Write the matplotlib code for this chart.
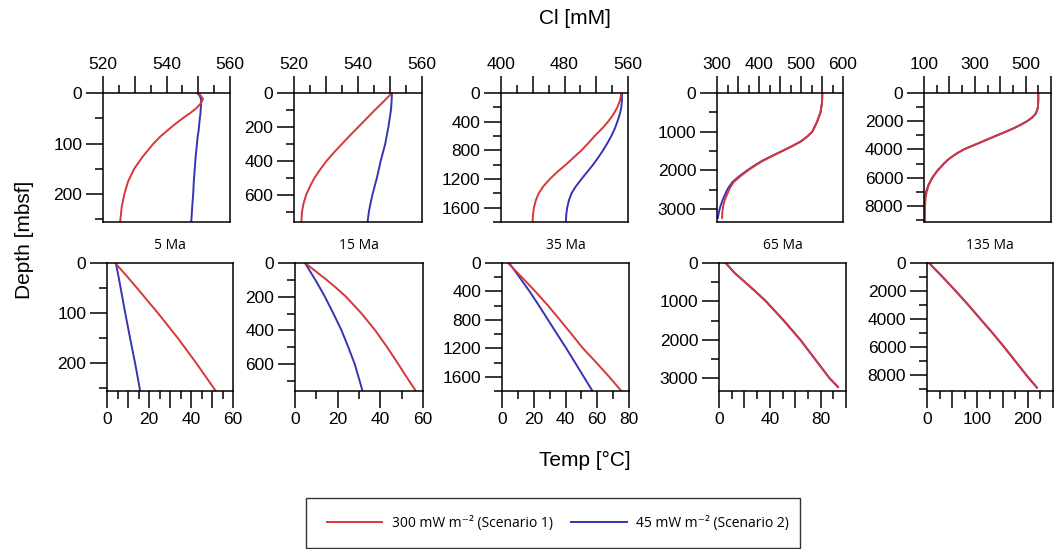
import matplotlib
matplotlib.use("Agg")
import matplotlib.pyplot as plt
from matplotlib.lines import Line2D
from matplotlib.patches import Rectangle

plt.rcParams['font.family'] = ['Liberation Sans', 'DejaVu Sans']

RED = '#d6373b'
BLUE = '#3434b4'

ages = ['5 Ma', '15 Ma', '35 Ma', '65 Ma', '135 Ma']
legend_labels = ['300 mW m\u207b\u00b2 (Scenario 1)', '45 mW m\u207b\u00b2 (Scenario 2)']

# ---- Cl profiles (depth in mbsf, Cl in mM) ----
cl_depth_5 = [0, 5, 12, 20, 30, 40, 50, 62, 75, 87, 100, 125, 150, 175, 200, 225, 255]
cl_red_5 = [549.7, 550.8, 551.5, 550.9, 549.4, 547.4, 545.1, 542.6, 540.1, 537.9, 535.9,
            532.6, 529.8, 527.9, 526.7, 525.9, 525.4]
cl_blue_5 = [549.7, 550.4, 550.9, 550.9, 550.8, 550.7, 550.5, 550.3, 550.1, 549.8, 549.6,
             549.2, 548.9, 548.6, 548.4, 548.1, 547.8]

cl_depth_15 = [0, 50, 100, 150, 200, 250, 300, 350, 400, 450, 500, 550, 600, 650, 700, 757]
cl_red_15 = [550.6, 548.0, 545.3, 542.7, 540.1, 537.5, 535.0, 532.5, 530.2, 528.2, 526.4,
             525.0, 523.8, 523.0, 522.5, 522.3]
cl_blue_15 = [550.6, 550.5, 550.3, 549.9, 549.5, 549.0, 548.5, 547.8, 547.1, 546.5, 545.9,
              545.2, 544.5, 543.9, 543.4, 543.0]

cl_depth_35 = [0, 100, 200, 300, 400, 500, 600, 700, 800, 900, 1000, 1100, 1200, 1300,
               1400, 1500, 1600, 1700, 1800]
cl_red_35 = [551.6, 550.0, 546.6, 541.5, 534.9, 527.0, 518.0, 510.0, 501.4, 491.5, 481.7,
             471.0, 461.6, 453.5, 447.5, 443.8, 441.5, 440.3, 439.8]
cl_blue_35 = [552.5, 552.3, 551.6, 549.5, 546.6, 543.2, 539.0, 534.0, 528.6, 522.5, 516.0,
              508.8, 501.4, 494.5, 488.8, 485.5, 483.4, 482.2, 481.7]

cl_depth_65 = [0, 250, 500, 750, 1000, 1125, 1250, 1375, 1500, 1625, 1750, 1875, 2000, 2150,
               2300, 2450, 2600, 2750, 2900, 3050, 3230]
cl_red_65 = [550.8, 550.0, 546.5, 538.0, 527.0, 515.0, 500.0, 479.0, 456.0, 432.0, 410.0,
             391.0, 374.0, 356.0, 340.0, 331.0, 325.0, 319.0, 315.0, 313.0, 312.0]
cl_blue_65 = [550.8, 550.0, 546.5, 538.0, 527.0, 515.0, 500.0, 478.5, 455.0, 431.0, 408.0,
              389.0, 372.0, 353.0, 337.0, 327.0, 320.0, 314.0, 309.0, 305.0, 302.0]

cl_depth_135 = [0, 500, 1000, 1250, 1500, 1750, 2000, 2250, 2500, 2750, 3000, 3250, 3500,
                3750, 4000, 4250, 4500, 4750, 5000, 5500, 6000, 6500, 7000, 7500, 8000, 9140]
cl_red_135 = [550, 550, 548.5, 545, 538.5, 525, 505.8, 481, 453, 421, 388, 355, 322.5,
              289, 257, 232, 211, 193, 178.5, 153, 132.7, 119, 110.5, 106, 104, 104]
cl_blue_135 = [550, 550, 548.5, 545, 538.5, 525, 505.8, 481, 453, 421, 388, 355, 322.5,
               289, 257, 232, 211, 193, 178.5, 153, 132.7, 118, 108, 103, 101, 100]

# ---- Temperature profiles (depth in mbsf, T in degC) ----
t_depth_5 = [0, 25, 50, 100, 150, 200, 255]
t_red_5 = [3.9, 9.2, 14.3, 24.3, 33.8, 42.6, 51.8]
t_blue_5 = [4.2, 5.4, 6.5, 8.7, 11.0, 13.4, 15.8]

t_depth_15 = [0, 50, 100, 150, 200, 300, 400, 500, 600, 700, 757]
t_red_15 = [4.7, 9.8, 14.8, 19.5, 23.9, 31.2, 37.6, 43.2, 48.4, 53.5, 56.5]
t_blue_15 = [4.7, 7.1, 9.5, 11.8, 14.0, 18.0, 21.8, 25.0, 28.0, 30.3, 31.6]

t_depth_35 = [0, 200, 400, 600, 800, 1000, 1200, 1400, 1600, 1800]
t_red_35 = [3.8, 12.5, 21.0, 29.0, 36.5, 43.8, 51.0, 59.4, 67.5, 75.2]
t_blue_35 = [4.5, 11.0, 17.4, 23.3, 29.0, 34.7, 40.5, 46.0, 51.5, 57.0]

t_depth_65 = [0, 250, 500, 750, 1000, 1500, 2000, 2500, 3000, 3230]
t_red_65 = [5.3, 12.0, 20.5, 29.0, 37.0, 51.0, 64.0, 75.5, 87.0, 93.7]
t_blue_65 = [5.3, 12.0, 20.5, 29.0, 37.0, 51.0, 64.0, 75.5, 87.0, 93.7]

t_depth_135 = [0, 1000, 2000, 3000, 4000, 5000, 6000, 7000, 8000, 8900]
t_red_135 = [4, 31, 57, 82, 106, 130, 153, 175, 197, 218]
t_blue_135 = [4, 31, 57, 82, 106, 130, 153, 175, 197, 218]

cl_sets = [(cl_depth_5, cl_red_5, cl_blue_5), (cl_depth_15, cl_red_15, cl_blue_15),
           (cl_depth_35, cl_red_35, cl_blue_35), (cl_depth_65, cl_red_65, cl_blue_65),
           (cl_depth_135, cl_red_135, cl_blue_135)]
t_sets = [(t_depth_5, t_red_5, t_blue_5), (t_depth_15, t_red_15, t_blue_15),
          (t_depth_35, t_red_35, t_blue_35), (t_depth_65, t_red_65, t_blue_65),
          (t_depth_135, t_red_135, t_blue_135)]

# axis setup per column
depth_max = [255, 760, 1800, 3335, 9140]
depth_step = [100, 200, 400, 1000, 2000]
cl_lim = [(520, 560), (520, 560), (400, 560), (300, 600), (100, 600)]
cl_step = [10, 10, 40, 50, 100]
cl_label_step = [20, 20, 80, 100, 200]
t_lim = [(0, 60), (0, 60), (0, 80), (0, 100), (0, 250)]
t_step = [10, 20, 20, 20, 50]
t_label_step = [20, 20, 20, 40, 100]

W, H = 1054, 549
top_x = [(103, 230), (294, 422), (501, 628), (717, 843), (924, 1051)]
bot_x = [(107, 233), (295, 423), (502, 629), (719, 846), (927, 1053)]
top_y = (93, 222)
bot_y = (263, 391)


def rng(a, b, s):
    out = []
    v = a
    while v <= b + 1e-9:
        out.append(v)
        v += s
    return out


def make_axes(fig, xr, yr):
    x0, x1 = xr
    y0, y1 = yr
    return fig.add_axes([x0 / W, 1 - y1 / H, (x1 - x0) / W, (y1 - y0) / H])


def style(ax, xlim, xstep, xlabstep, ymax, ystep, top):
    ax.set_xlim(*xlim)
    xm = rng(xlim[0], xlim[1], xstep)
    ax.set_xticks(xm)
    ax.set_xticklabels([str(int(v)) if (v - xlim[0]) % xlabstep == 0 else '' for v in xm])
    ax.set_xticks(rng(xlim[0] + xstep / 2, xlim[1], xstep), minor=True)
    ym = rng(0, ymax, ystep)
    ax.set_yticks(ym)
    ax.set_yticklabels([str(int(v)) for v in ym])
    ax.set_yticks(rng(ystep / 2, ymax, ystep), minor=True)
    if top:
        ax.xaxis.tick_top()
    ax.tick_params(which='major', length=12, width=1.1, direction='out', pad=3,
                   labelsize=12.5, colors='black')
    ax.tick_params(which='minor', length=5.5, width=1.1, direction='out')
    for s in ax.spines.values():
        s.set_linewidth(1.1)
    ax.set_ylim(ymax, 0)


fig = plt.figure(figsize=(W / 100, H / 100), dpi=100)

for i in range(5):
    ax = make_axes(fig, top_x[i], top_y)
    d, r, b = cl_sets[i]
    ax.plot(b, d, color=BLUE, lw=1.4)
    ax.plot(r, d, color=RED, lw=1.4)
    style(ax, cl_lim[i], cl_step[i], cl_label_step[i], depth_max[i], depth_step[i], True)

    ax2 = make_axes(fig, bot_x[i], bot_y)
    d, r, b = t_sets[i]
    ax2.plot(b, d, color=BLUE, lw=1.4)
    ax2.plot(r, d, color=RED, lw=1.4)
    style(ax2, t_lim[i], t_step[i], t_label_step[i], depth_max[i], depth_step[i], False)
    ax2.set_title(ages[i], fontsize=10, family=['Open Sans', 'DejaVu Sans'], pad=10)

fig.text(575 / W, 1 - 18 / H, 'Cl [mM]', ha='center', va='center', fontsize=15)
fig.text(585 / W, 1 - 460 / H, 'Temp [\u00b0C]', ha='center', va='center', fontsize=15)
fig.text(25 / W, 1 - 240 / H, 'Depth [mbsf]', ha='center', va='center', rotation=90, fontsize=15)

# legend box
fig.patches.append(Rectangle((306 / W, 1 - 548 / H), (800 - 306) / W, (548 - 498) / H,
                             transform=fig.transFigure, fill=False, edgecolor='#333333', lw=1.0))
handles = [Line2D([], [], color=RED, lw=1.4), Line2D([], [], color=BLUE, lw=1.4)]
fig.legend(handles, legend_labels, loc='center', bbox_to_anchor=(558 / W, 1 - 523 / H),
           ncol=2, frameon=False, handlelength=4.0, handletextpad=0.7, columnspacing=1.3,
           prop={'family': ['Open Sans', 'DejaVu Sans'], 'size': 10})

fig.savefig('out.png', dpi=100)
